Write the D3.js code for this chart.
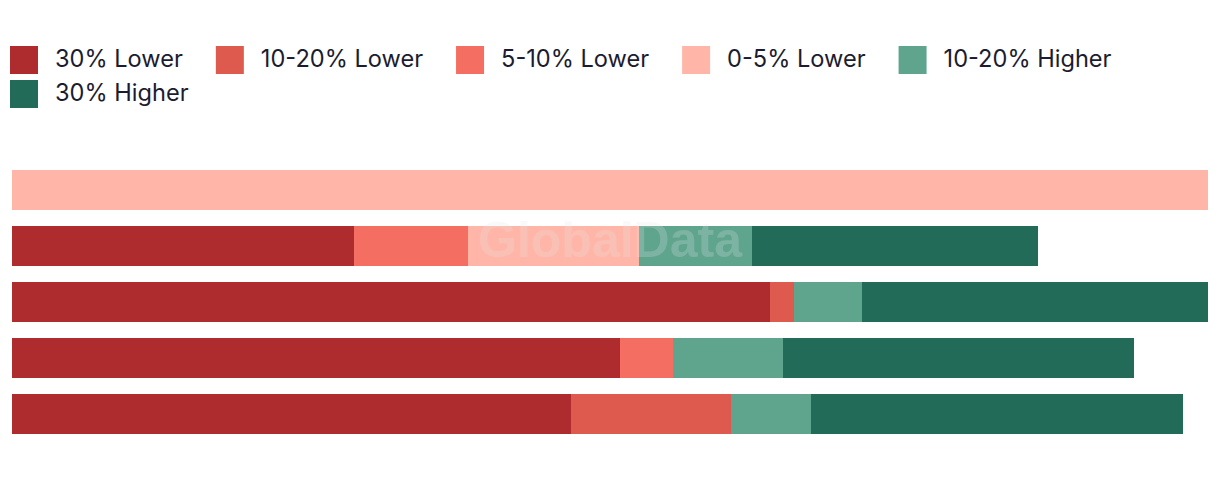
<!DOCTYPE html>
<html>
<head>
<meta charset="utf-8">
<script src="https://cdn.jsdelivr.net/npm/d3@7"></script>
<style>
  html, body { margin: 0; padding: 0; background: #ffffff; }
  svg { display: block; }
</style>
</head>
<body>
<svg id="chart" width="1220" height="478"></svg>
<script>
// ---- data ----
const categories = ["Row 1", "Row 2", "Row 3", "Row 4", "Row 5"];
const seriesNames = ["30% Lower", "10-20% Lower", "5-10% Lower", "0-5% Lower", "10-20% Higher", "30% Higher"];
const lower30  = [0, 28.6, 63.4, 50.8, 46.7];
const lower1020 = [0, 0, 2.0, 0, 13.4];
const lower510 = [0, 9.5, 0, 4.5, 0];
const lower05  = [100, 14.3, 0, 0, 0];
const higher1020 = [0, 9.5, 5.7, 9.2, 6.7];
const higher30 = [0, 23.9, 28.9, 29.3, 31.1];
const colors = ["#ae2c2e", "#df5a4e", "#f46e62", "#ffb6a8", "#5fa58e", "#216b58"];

const seriesValues = [lower30, lower1020, lower510, lower05, higher1020, higher30];
const rows = categories.map((c, i) => {
  const r = { category: c };
  seriesNames.forEach((s, j) => { r[s] = seriesValues[j][i]; });
  return r;
});

const svg = d3.select("#chart");

const x = d3.scaleLinear().domain([0, 100]).range([12, 1208]);
const y = d3.scaleBand().domain(categories).range([170, 434]).paddingInner(16 / 56).paddingOuter(0);
const color = d3.scaleOrdinal().domain(seriesNames).range(colors);

const stacked = d3.stack().keys(seriesNames)(rows);

svg.append("g")
  .selectAll("g")
  .data(stacked)
  .join("g")
  .attr("fill", d => color(d.key))
  .selectAll("rect")
  .data(d => d)
  .join("rect")
  .attr("x", d => x(d[0]))
  .attr("y", d => y(d.data.category))
  .attr("width", d => Math.max(0, x(d[1]) - x(d[0])))
  .attr("height", y.bandwidth())
  .attr("shape-rendering", "crispEdges");

// watermark
svg.append("text")
  .attr("x", 610)
  .attr("y", 257)
  .attr("text-anchor", "middle")
  .attr("font-family", "Liberation Sans, Arial, sans-serif")
  .attr("font-weight", "bold")
  .attr("font-size", 50)
  .attr("fill", "#e8e8e8")
  .attr("opacity", 0.22)
  .text("GlobalData");

// legend
const legend = svg.append("g");
const fontFamily = "Inter, 'Open Sans', sans-serif";
const fontSize = 23.6;
let lx = 10, ly = 46;
const maxX = 1210;
seriesNames.forEach((name, i) => {
  const g = legend.append("g");
  const t = g.append("text")
    .attr("x", 45)
    .attr("y", 21)
    .attr("font-family", fontFamily)
    .attr("font-size", fontSize)
    .attr("fill", "#1c1c30")
    .text(name);
  const w = t.node().getComputedTextLength();
  const itemW = 45 + w;
  if (lx + itemW > maxX - 60 && i > 0) { lx = 10; ly += 34; }
  g.attr("transform", `translate(${lx},${ly})`);
  g.insert("rect", "text")
    .attr("width", 28).attr("height", 28)
    .attr("fill", color(name));
  lx += itemW + 33;
});
</script>
</body>
</html>
